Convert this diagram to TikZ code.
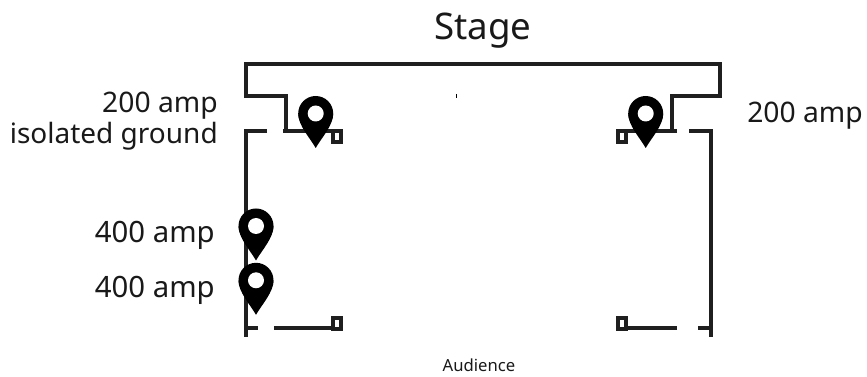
\documentclass[tikz,border=0pt]{standalone}
\usepackage{fontspec}
\setmainfont{Noto Sans}
\tikzset{
  x=0.75pt,y=-0.75pt,
  wall/.style={draw=black!88,line width=3pt,line cap=butt,line join=miter},
  label/.style={font=\fontsize{21.2}{25}\selectfont,inner sep=0pt,text=black!90},
  pin/.pic={
    \fill[black] (0,0) circle[radius=17.5];
    \fill[black] (0,34.5) .. controls (-6,24) and (-17.5,12) .. (-17.5,0) -- (17.5,0) .. controls (17.5,12) and (6,24) .. (0,34.5) -- cycle;
    \fill[white] (0,0) circle[radius=8];
  }
}
\begin{document}
\begin{tikzpicture}
\useasboundingbox (0,0) rectangle (867,377);
% stage outline
\draw[wall] (286,131) -- (286,96) -- (245.5,96) -- (245.5,64) -- (720,64) -- (720,96) -- (671.7,96) -- (671.7,131);
% upper left
\draw[wall] (267,131) -- (245.5,131) -- (245.5,337);
\draw[wall] (283,131) -- (333,131);
\draw[wall] (333,131) rectangle (341,142.5);
% upper right
\draw[wall] (677,131) -- (626,131);
\draw[wall] (618,131) rectangle (626,142.5);
\draw[wall] (689,131) -- (710.5,131) -- (710.5,337);
% lower left
\draw[wall] (245.5,328) -- (258,328);
\draw[wall] (274,328) -- (333,328);
\draw[wall] (333,318.5) rectangle (341,329);
% lower right
\draw[wall] (677,328) -- (626,328);
\draw[wall] (618,318.5) rectangle (626,329);
\draw[wall] (698,328) -- (710.5,328);
% tick
\draw[black,line width=0.75pt] (456.7,94) -- (456.7,98);
% pins
\pic at (315.7,113.5) {pin};
\pic at (645.7,113.5) {pin};
\pic at (256,226) {pin};
\pic at (256,280.3) {pin};
% text
\node[label,font=\fontsize{27.5}{32}\selectfont] (stage) at (483,31) {Stage};
\node[label,anchor=base east] (a1) at (218,113) {200 amp};
\node[label,anchor=base east,font=\fontsize{21}{25}\selectfont] (a1b) at (218,144) {isolated ground};
\node[label,anchor=base west] (a2) at (747,123) {200 amp};
\node[label,anchor=base east,font=\fontsize{22}{26}\selectfont] (a3) at (215,242.5) {400 amp};
\node[label,anchor=base east,font=\fontsize{22}{26}\selectfont] (a4) at (215,297.5) {400 amp};
\node[font=\fontsize{12.5}{15}\selectfont,inner sep=0pt,text=black!90] (aud) at (479,365) {Audience};
\end{tikzpicture}
\end{document}
